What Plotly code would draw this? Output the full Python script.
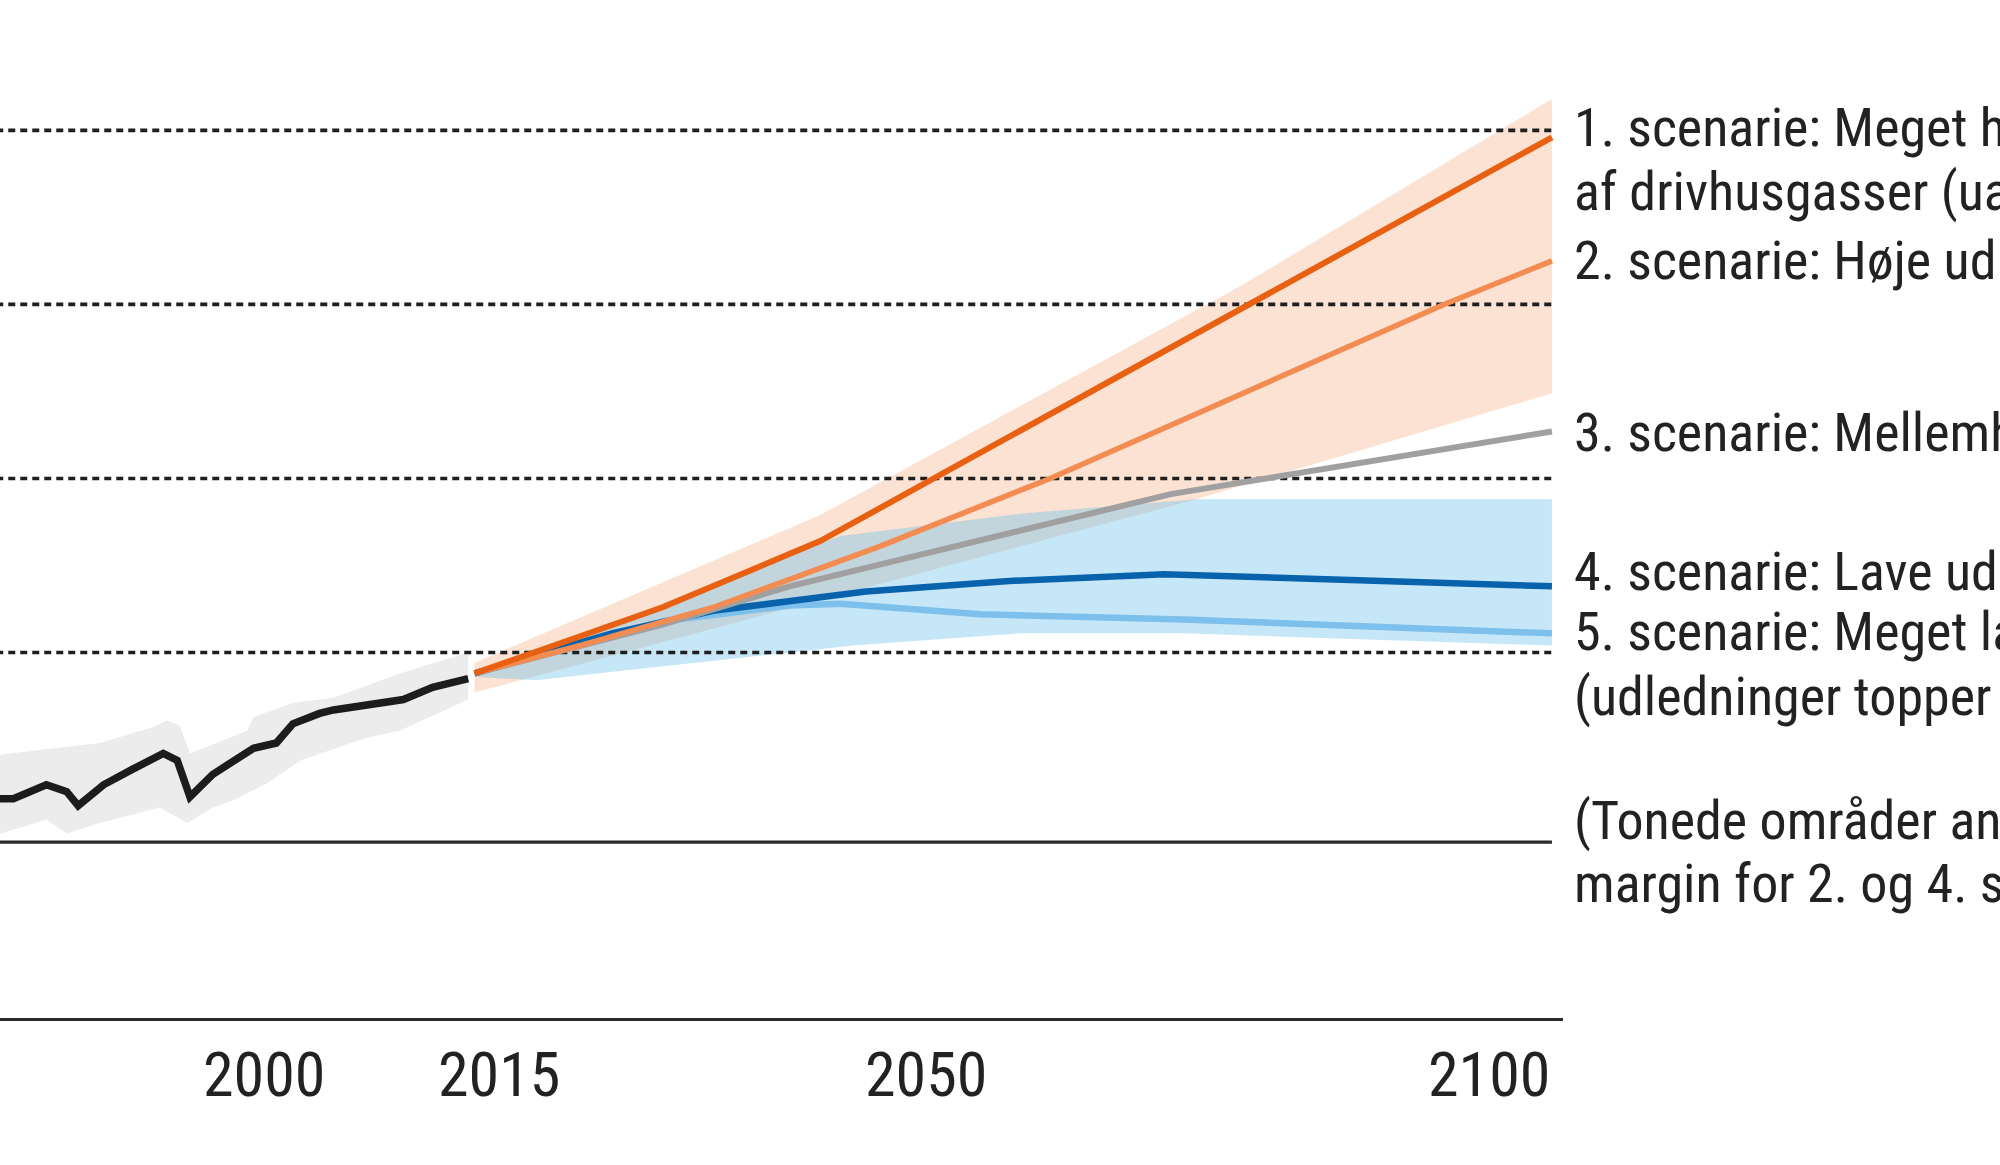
import plotly.graph_objects as go

# ---------------- data ----------------
hist_years = [1977.0, 1978.9, 1981.5, 1983.1, 1984.0, 1986.0, 1988.3, 1990.7, 1991.8, 1992.8,
              1994.6, 1996.2, 1997.8, 1999.6, 2000.9, 2003.0, 2004.1, 2009.6, 2011.9, 2014.7]
hist_temp = [0.25, 0.25, 0.33, 0.29, 0.21, 0.33, 0.42, 0.51, 0.47, 0.26,
             0.39, 0.46, 0.54, 0.57, 0.68, 0.74, 0.76, 0.82, 0.89, 0.94]

hist_band_up_years = [1977.0, 1978.6, 1985.7, 1989.9, 1991.0, 1992.0, 1992.8, 1997.3, 1997.8,
                      2000.9, 2004.1, 2009.3, 2014.7]
hist_band_up = [0.49, 0.51, 0.57, 0.66, 0.70, 0.67, 0.51, 0.64, 0.72, 0.80, 0.83, 0.97, 1.09]
hist_band_lo_years = [1977.0, 1981.5, 1983.1, 1985.7, 1990.4, 1992.6, 1994.6, 1996.2, 1998.9,
                      2001.5, 2006.7, 2009.3, 2014.7]
hist_band_lo = [0.03, 0.13, 0.05, 0.11, 0.20, 0.11, 0.20, 0.24, 0.34, 0.47, 0.60, 0.64, 0.82]

s1_years = [2015.2, 2030, 2042.4, 2100]
s1_vals = [0.97, 1.35, 1.73, 4.05]
s2_years = [2015.2, 2023.5, 2034, 2047.1, 2060.5, 2091.5, 2100]
s2_vals = [0.97, 1.13, 1.35, 1.70, 2.09, 3.09, 3.34]
s3_years = [2015.2, 2030, 2040, 2054, 2070, 2100]
s3_vals = [0.97, 1.25, 1.47, 1.72, 2.00, 2.36]
s4_years = [2015.2, 2026, 2034, 2046, 2057, 2069.5, 2100]
s4_vals = [0.97, 1.20, 1.33, 1.44, 1.50, 1.54, 1.47]
s5_years = [2015.2, 2030, 2040, 2044, 2055, 2071, 2100]
s5_vals = [0.97, 1.27, 1.36, 1.37, 1.31, 1.28, 1.20]

orange_up_years = [2015.2, 2023.5, 2042.4, 2075.6, 2100]
orange_up = [1.03, 1.29, 1.88, 3.20, 4.27]
orange_lo_years = [2015.2, 2072, 2100]
orange_lo = [0.86, 1.97, 2.58]

blue_up_years = [2015.2, 2025, 2035, 2044, 2058.5, 2072, 2100]
blue_up = [0.98, 1.22, 1.52, 1.76, 1.89, 1.97, 1.97]
blue_lo_years = [2015.2, 2020, 2035, 2045, 2058, 2071, 2100]
blue_lo = [0.95, 0.93, 1.05, 1.13, 1.20, 1.20, 1.13]

dashed_levels = [1.09, 2.09, 3.09, 4.09]
baseline_level = 0.0

tick_years = [2000, 2015, 2050, 2100]
tick_labels = ["2000", "2015", "2050", "2100"]

label_lines = [
    "1. scenarie: Meget h",
    "af drivhusgasser (ua",
    "2. scenarie: Høje ud",
    "3. scenarie: Mellemh",
    "4. scenarie: Lave ud",
    "5. scenarie: Meget la",
    "(udledninger topper",
    "(Tonede områder an",
    "margin for 2. og 4. s",
]

# ---------------- styling / layout ----------------
X_RANGE = [1977.85, 2100.87]
Y_RANGE = [-1.01, 4.5]
TEXT_COLOR = "#222222"

fig = go.Figure()


def band(xu, yu, xl, yl, color):
    fig.add_trace(go.Scatter(
        x=list(xu) + list(xl)[::-1], y=list(yu) + list(yl)[::-1],
        mode="lines", fill="toself", fillcolor=color,
        line=dict(width=0), hoverinfo="skip", showlegend=False))


def line(x, y, color, width, dash="solid"):
    fig.add_trace(go.Scatter(
        x=x, y=y, mode="lines", line=dict(color=color, width=width, dash=dash),
        hoverinfo="skip", showlegend=False))


# bands
band(hist_band_up_years, hist_band_up, hist_band_lo_years, hist_band_lo, "rgb(236,236,236)")
band(orange_up_years, orange_up, orange_lo_years, orange_lo, "rgb(251,226,211)")
band(blue_up_years, blue_up, blue_lo_years, blue_lo, "rgba(100,190,235,0.37)")

# reference lines (drawn over the bands, as in the original)
for lvl in dashed_levels:
    line([1970, 2100], [lvl, lvl], "#1f1f1f", 3.6, "7px,5px")
line([1970, 2100], [baseline_level, baseline_level], "#2b2b2b", 3.2)

# lines
line(hist_years, hist_temp, "#1c1c1c", 7.5)
line(s5_years, s5_vals, "rgb(125,192,236)", 6.5)
line(s4_years, s4_vals, "rgb(8,98,172)", 6.5)
line(s3_years, s3_vals, "rgb(160,160,160)", 6)
line(s2_years, s2_vals, "rgb(242,140,82)", 5.5)
line(s1_years, s1_vals, "rgb(232,96,18)", 6)

annotations = []
# x tick labels
tick_shifts = [-17, 27, 9, 0]
for yr, txt, sh in zip(tick_years, tick_labels, tick_shifts):
    annotations.append(dict(
        x=yr, xref="x", y=0, yref="paper", text=txt, showarrow=False,
        xanchor="right" if yr == 2100 else "center", yanchor="middle",
        xshift=sh, yshift=-56,
        font=dict(family="Roboto Condensed, Liberation Sans Narrow, Arial Narrow, sans-serif",
                  size=62, color=TEXT_COLOR)))

# right-hand labels (paper y positions)
label_y_px = [127.5, 191, 260, 432, 571, 631, 696, 820, 883]
plot_top, plot_bottom = 59, 1017.7
for txt, ypx in zip(label_lines, label_y_px):
    annotations.append(dict(
        x=2100, xref="x", xanchor="left", xshift=20,
        y=(plot_bottom - ypx) / (plot_bottom - plot_top), yref="paper", yanchor="middle",
        text=txt, showarrow=False, align="left",
        font=dict(family="Roboto Condensed, Roboto, sans-serif", size=54, color=TEXT_COLOR)))

fig.update_layout(
    width=2000, height=1165,
    margin=dict(l=0, r=437, t=59, b=147.3, pad=0),
    paper_bgcolor="white", plot_bgcolor="white",
    showlegend=False,
    xaxis=dict(range=X_RANGE, showgrid=False, zeroline=False, showticklabels=False,
               ticks="", showline=True, linecolor="#2b2b2b", linewidth=3, fixedrange=True),
    yaxis=dict(range=Y_RANGE, visible=False, fixedrange=True),
    annotations=annotations,
)

fig.write_html("out.html", config={"displayModeBar": False},
               post_script="document.body.style.margin='0';document.body.style.padding='0';")
